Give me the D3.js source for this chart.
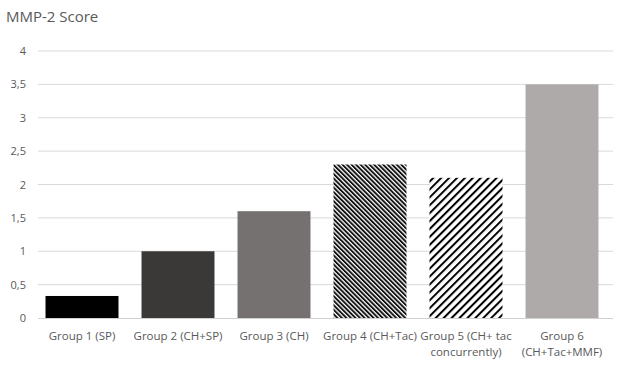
<!DOCTYPE html>
<html>
<head>
<meta charset="utf-8">
<script src="https://cdn.jsdelivr.net/npm/d3@7"></script>
<style>
  body { margin: 0; background: #fff; }
  svg { display: block; font-family: "Open Sans", "Noto Sans", sans-serif; }
</style>
</head>
<body>
<div id="chart"></div>
<script>
// chart data
var categories = ["Group 1 (SP)", "Group 2 (CH+SP)", "Group 3 (CH)", "Group 4 (CH+Tac)", "Group 5 (CH+ tac concurrently)", "Group 6 (CH+Tac+MMF)"];
var labelLines = [["Group 1 (SP)"], ["Group 2 (CH+SP)"], ["Group 3 (CH)"], ["Group 4 (CH+Tac)"], ["Group 5 (CH+ tac", "concurrently)"], ["Group 6", "(CH+Tac+MMF)"]];
var values = [0.33, 1.0, 1.6, 2.3, 2.1, 3.5];
var fills = ["#000000", "#3b3838", "#767171", "url(#hatchDense)", "url(#hatchWide)", "#aeaaaa"];
var yTicks = [0, 0.5, 1, 1.5, 2, 2.5, 3, 3.5, 4];

var width = 630, height = 368;
var svg = d3.select("#chart").append("svg")
    .attr("width", width)
    .attr("height", height);

// patterns for the hatched bars
var defs = svg.append("defs");
var dense = defs.append("pattern")
    .attr("id", "hatchDense")
    .attr("patternUnits", "userSpaceOnUse")
    .attr("width", 3.2).attr("height", 3.2)
    .attr("patternTransform", "rotate(-45)");
dense.append("rect").attr("width", 3.2).attr("height", 3.2).attr("fill", "#fff");
dense.append("rect").attr("width", 1.9).attr("height", 3.2).attr("fill", "#111");

var wide = defs.append("pattern")
    .attr("id", "hatchWide")
    .attr("patternUnits", "userSpaceOnUse")
    .attr("width", 5.6).attr("height", 5.6)
    .attr("patternTransform", "rotate(45)");
wide.append("rect").attr("width", 5.6).attr("height", 5.6).attr("fill", "#fff");
wide.append("rect").attr("width", 2).attr("height", 5.6).attr("fill", "#000");

var x = d3.scaleBand()
    .domain(categories)
    .range([34, 610])
    .paddingInner(0.24)
    .paddingOuter(0.12);

var y = d3.scaleLinear()
    .domain([0, 4])
    .range([318, 51]);

// title
svg.append("text")
    .attr("x", 6).attr("y", 22)
    .attr("fill", "#595959")
    .attr("font-size", 15)
    .text("MMP-2 Score");

// gridlines
svg.append("g")
    .selectAll("line")
    .data(yTicks.slice(1))
    .enter().append("line")
    .attr("x1", 38).attr("x2", 613)
    .attr("y1", d => y(d)).attr("y2", d => y(d))
    .attr("stroke", "#d9d9d9")
    .attr("stroke-width", 1);

// y axis labels
var yAxis = svg.append("g")
    .attr("transform", "translate(26,0)")
    .call(d3.axisLeft(y).tickValues(yTicks).tickSize(0).tickPadding(0)
        .tickFormat(d => String(d).replace(".", ",")));
yAxis.select(".domain").remove();
yAxis.selectAll("text")
    .attr("fill", "#595959")
    .attr("font-size", 11)
    .attr("font-family", "\"Open Sans\", \"Noto Sans\", sans-serif");

// bars
svg.append("g")
    .selectAll("rect")
    .data(values)
    .enter().append("rect")
    .attr("x", (d, i) => x(categories[i]))
    .attr("width", x.bandwidth())
    .attr("y", d => y(d))
    .attr("height", d => y(0) - y(d))
    .attr("fill", (d, i) => fills[i]);

// baseline
svg.append("line")
    .attr("x1", 38).attr("x2", 613)
    .attr("y1", y(0) + 0.5).attr("y2", y(0) + 0.5)
    .attr("stroke", "#d0d0d0");

// category labels
var labels = svg.append("g")
    .selectAll("text")
    .data(categories)
    .enter().append("text")
    .attr("x", d => x(d) + x.bandwidth() / 2)
    .attr("y", 340)
    .attr("text-anchor", "middle")
    .attr("fill", "#595959")
    .attr("font-size", 11.5);
labels.each(function (d, i) {
    var t = d3.select(this);
    labelLines[i].forEach((line, j) => {
        t.append("tspan")
            .attr("x", x(d) + x.bandwidth() / 2)
            .attr("dy", j === 0 ? 0 : 16)
            .text(line);
    });
});
</script>
</body>
</html>
